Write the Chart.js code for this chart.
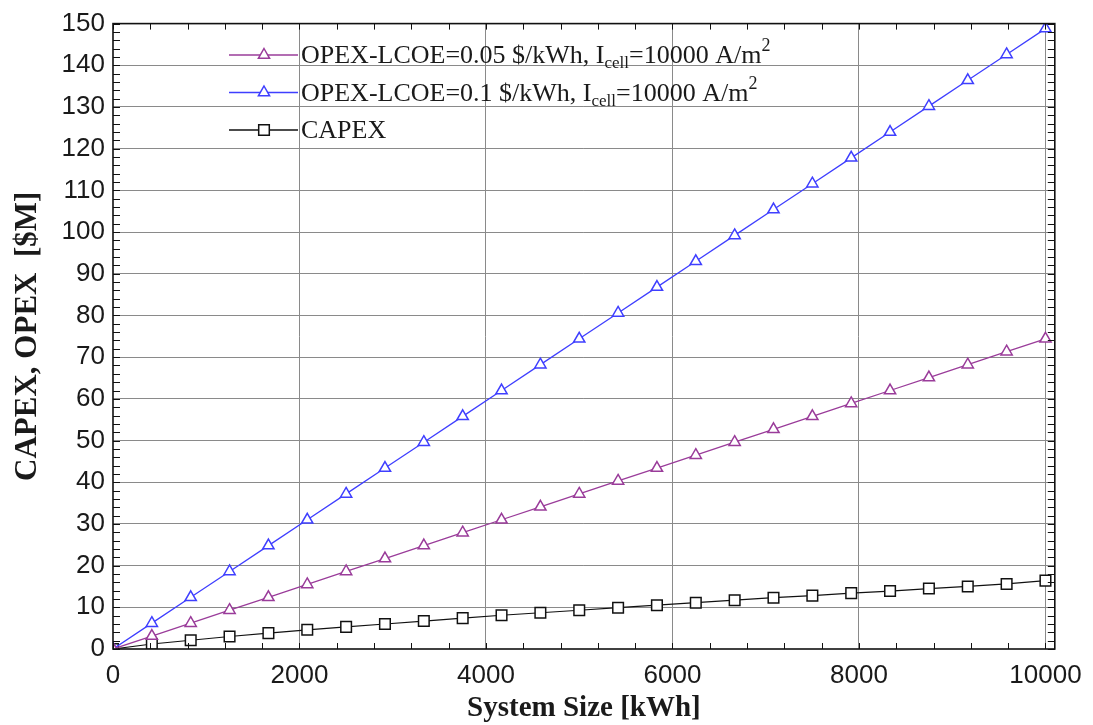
<!DOCTYPE html>
<html>
<head>
<meta charset="utf-8">
<script src="https://cdn.jsdelivr.net/npm/chart.js@4.4.1/dist/chart.umd.min.js"></script>
<style>
  html, body { margin: 0; padding: 0; background: #fff; }
  #wrap { width: 1093px; height: 725px; }
</style>
</head>
<body>
<div id="wrap"><canvas id="myChart" width="1093" height="725"></canvas></div>
<script>
// system size [kWh]
const systemSize = [0, 416.7, 833.3, 1250, 1666.7, 2083.3, 2500, 2916.7, 3333.3, 3750, 4166.7, 4583.3, 5000,
	5416.7, 5833.3, 6250, 6666.7, 7083.3, 7500, 7916.7, 8333.3, 8750, 9166.7, 9583.3, 10000];

// OPEX at 0.05 $/kWh [$M]
const opex005 = [0, 3.1, 6.2, 9.3, 12.4, 15.5, 18.6, 21.7, 24.8, 27.9, 31.0, 34.1, 37.2,
	40.3, 43.4, 46.5, 49.6, 52.7, 55.8, 58.9, 62.0, 65.1, 68.2, 71.3, 74.4];

// OPEX at 0.1 $/kWh [$M]
const opex01 = [0, 6.2, 12.4, 18.6, 24.8, 31.0, 37.2, 43.4, 49.6, 55.8, 62.0, 68.2, 74.4,
	80.6, 86.8, 93.0, 99.2, 105.4, 111.6, 117.8, 124.0, 130.2, 136.4, 142.6, 148.8];

// CAPEX [$M]
const capex = [0, 1.2, 2.1, 3.0, 3.8, 4.6, 5.3, 6.0, 6.7, 7.4, 8.1, 8.7, 9.3,
	9.9, 10.5, 11.1, 11.7, 12.3, 12.8, 13.4, 13.9, 14.5, 15.0, 15.6, 16.4];

const xTicks = [0, 2000, 4000, 6000, 8000, 10000];

const purple = "#9a3c9a";
const blue = "#3f3fff";
const black = "#111111";

const toPoints = (ys) => ys.map((y, i) => ({ x: systemSize[i], y }));

// legend rows: colour, marker, text pieces [text, kind]
const legendRows = [
	{ color: purple, marker: "triangle", parts: [["OPEX-LCOE=0.05 $/kWh, I", "n"], ["cell", "sub"], ["=10000 A/m", "n"], ["2", "sup"]] },
	{ color: blue, marker: "triangle", parts: [["OPEX-LCOE=0.1 $/kWh, I", "n"], ["cell", "sub"], ["=10000 A/m", "n"], ["2", "sup"]] },
	{ color: black, marker: "square", parts: [["CAPEX", "n"]] },
];

const serif = "'Liberation Serif', 'Times New Roman', serif";
const sans = "'Liberation Sans', Arial, sans-serif";

const drawMarker = (ctx, type, x, y, color) => {
	ctx.save();
	ctx.strokeStyle = color;
	ctx.fillStyle = "#fff";
	ctx.lineWidth = 1.5;
	ctx.beginPath();
	if (type === "triangle") {
		ctx.moveTo(x, y - 6.5);
		ctx.lineTo(x + 5.6, y + 3.3);
		ctx.lineTo(x - 5.6, y + 3.3);
		ctx.closePath();
	} else {
		ctx.rect(x - 5.3, y - 5.3, 10.6, 10.6);
	}
	ctx.fill();
	ctx.stroke();
	ctx.restore();
};

// frame, minor ticks, legend
const framePlugin = {
	id: "frame",
	afterDraw(chart) {
		const { ctx, chartArea: a, scales } = chart;
		const xs = scales.x;
		const ys = scales.y;
		ctx.save();
		ctx.strokeStyle = "#111";
		ctx.lineWidth = 1;
		ctx.beginPath();
		for (let v = 0; v <= 10000; v += 400) {
			const px = Math.round(xs.getPixelForValue(v)) + 0.5;
			ctx.moveTo(px, a.bottom);
			ctx.lineTo(px, a.bottom - 6);
			ctx.moveTo(px, a.top);
			ctx.lineTo(px, a.top + 6);
		}
		for (let v = 0; v <= 150; v += 2) {
			const py = Math.round(ys.getPixelForValue(v)) + 0.5;
			ctx.moveTo(a.left, py);
			ctx.lineTo(a.left + 7, py);
			ctx.moveTo(a.right, py);
			ctx.lineTo(a.right - 7, py);
		}
		ctx.stroke();
		ctx.lineWidth = 1.6;
		ctx.strokeRect(a.left, a.top, a.right - a.left, a.bottom - a.top);

		// legend
		let lineY = 55;
		legendRows.forEach((row) => {
			ctx.strokeStyle = row.color;
			ctx.lineWidth = 1.4;
			ctx.beginPath();
			ctx.moveTo(229, lineY);
			ctx.lineTo(298, lineY);
			ctx.stroke();
			drawMarker(ctx, row.marker, 264, lineY, row.color);

			let tx = 301;
			const base = lineY + 8;
			ctx.fillStyle = "#1a1a1a";
			ctx.textBaseline = "alphabetic";
			ctx.textAlign = "left";
			row.parts.forEach(([txt, kind]) => {
				let y = base;
				if (kind === "n") {
					ctx.font = "26px " + serif;
				} else if (kind === "sub") {
					ctx.font = "17px " + serif;
					y = base + 5;
				} else {
					ctx.font = "18px " + serif;
					y = base - 12;
				}
				ctx.fillText(txt, tx, y);
				tx += ctx.measureText(txt).width;
			});
			lineY += 37.5;
		});
		ctx.restore();
	},
};

const canvas = document.getElementById("myChart");

new Chart(canvas, {
	type: "scatter",
	data: {
		datasets: [
			{
				label: "OPEX-LCOE=0.05 $/kWh",
				data: toPoints(opex005),
				showLine: true,
				borderColor: purple,
				borderWidth: 1.3,
				pointStyle: "triangle",
				pointRadius: 6.5,
				pointBorderWidth: 1.5,
				pointBorderColor: purple,
				pointBackgroundColor: "#fff",
			},
			{
				label: "OPEX-LCOE=0.1 $/kWh",
				data: toPoints(opex01),
				showLine: true,
				borderColor: blue,
				borderWidth: 1.3,
				pointStyle: "triangle",
				pointRadius: 6.5,
				pointBorderWidth: 1.5,
				pointBorderColor: blue,
				pointBackgroundColor: "#fff",
			},
			{
				label: "CAPEX",
				data: toPoints(capex),
				showLine: true,
				borderColor: black,
				borderWidth: 1.2,
				pointStyle: "rect",
				pointRadius: 7.5,
				pointBorderWidth: 1.5,
				pointBorderColor: black,
				pointBackgroundColor: "#fff",
			},
		],
	},
	options: {
		responsive: false,
		animation: false,
		layout: { padding: { top: 21, right: 38, left: 0, bottom: 0 } },
		plugins: {
			legend: { display: false },
			tooltip: { enabled: false },
		},
		scales: {
			x: {
				type: "linear",
				min: 0,
				max: 10100,
				afterBuildTicks: (axis) => {
					axis.ticks = xTicks.map((value) => ({ value }));
				},
				afterFit: (scale) => {
					scale.height = 76;
				},
				grid: {
					color: (c) => (c.tick && c.tick.value === 0 ? "rgba(0,0,0,0)" : "#8a8a8a"),
					lineWidth: 1,
					drawTicks: false,
				},
				border: { display: false },
				ticks: {
					padding: 11,
					maxRotation: 0,
					color: "#1a1a1a",
					font: { family: sans, size: 26 },
					callback: (v) => String(v),
				},
				title: {
					display: true,
					text: "System Size [kWh]",
					color: "#1a1a1a",
					font: { family: serif, size: 29, weight: "bold", lineHeight: 1 },
					padding: { top: 0, bottom: 2 },
				},
			},
			y: {
				type: "linear",
				min: 0,
				max: 150,
				ticks: {
					stepSize: 10,
					padding: 8,
					color: "#1a1a1a",
					font: { family: sans, size: 26 },
				},
				afterFit: (scale) => {
					scale.width = 113;
				},
				grid: {
					color: (c) => (c.tick && (c.tick.value === 0 || c.tick.value === 150) ? "rgba(0,0,0,0)" : "#8a8a8a"),
					lineWidth: 1,
					drawTicks: false,
				},
				border: { display: false },
				title: {
					display: true,
					text: "CAPEX, OPEX  [$M]",
					color: "#1a1a1a",
					font: { family: serif, size: 31, weight: "bold", lineHeight: 1 },
					padding: { top: 12, bottom: 0 },
				},
			},
		},
	},
	plugins: [framePlugin],
});
</script>
</body>
</html>
